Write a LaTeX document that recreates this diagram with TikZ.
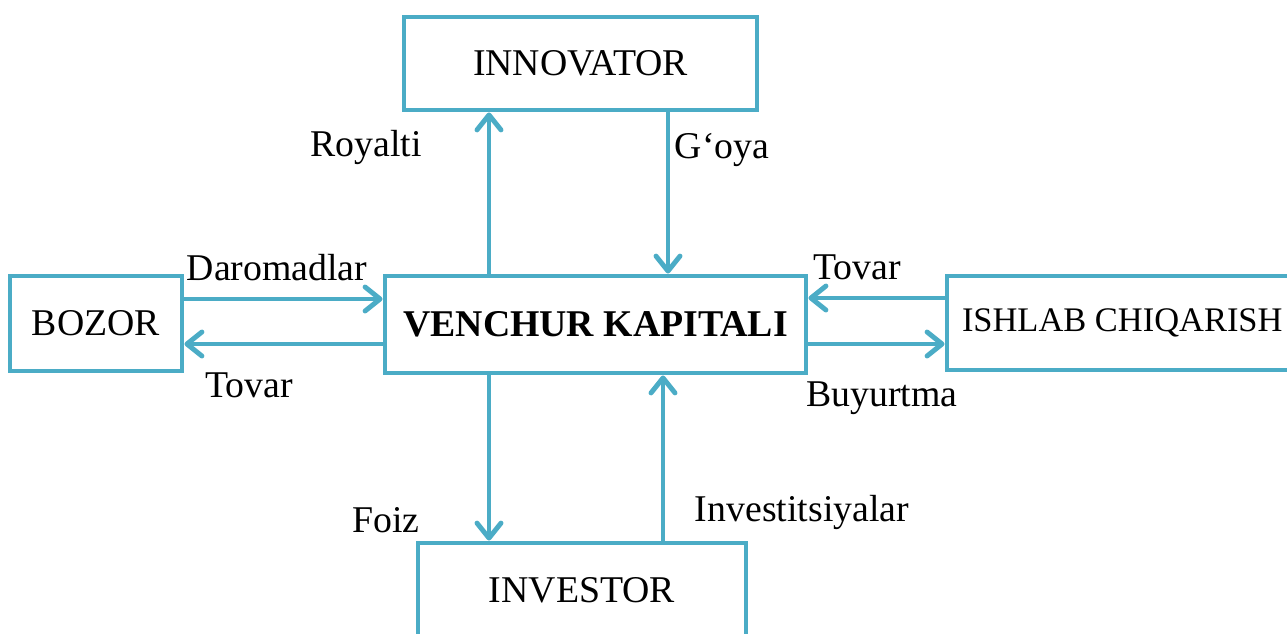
\documentclass[tikz,border=0pt]{standalone}
\usepackage{fontspec}
\setmainfont{Liberation Serif}
\usepackage{tikz}
\usetikzlibrary{positioning,calc,arrows.meta}
\definecolor{aqua}{HTML}{4BACC6}

\begin{document}
\begin{tikzpicture}[font=\fontsize{21.5}{25}\selectfont]
        \tikzstyle{box}=[draw=aqua, line width=2.8pt, inner sep=0pt, fill=white]
        \tikzstyle{arr}=[draw=aqua, line width=2.8pt, -{Straight Barb[length=3mm,width=4.8mm,round]}]

        \clip (0,0) rectangle (25.74,-12.66);

        \node[box, minimum width=7.06cm, minimum height=1.86cm] (innov) at (11.61,-1.27) {INNOVATOR};
        \node[box, minimum width=8.42cm, minimum height=1.94cm] (venchur) at (11.91,-6.49) {\textbf{VENCHUR KAPITALI}};
        \node[box, minimum width=3.44cm, minimum height=1.9cm] (bozor) at (1.92,-6.47) {BOZOR};
        \node[box, minimum height=1.88cm, inner xsep=0.3cm, font=\fontsize{19.6}{24}\selectfont] (ishlab) at (22.64,-6.46) {\makebox[6.8cm][l]{ISHLAB CHIQARISH}};
        \node[box, minimum width=6.56cm, minimum height=1.9cm] (invest) at (11.64,-11.81) {INVESTOR};

        \draw[arr] (venchur.north -| 9.78,0) -- (innov.south -| 9.78,0);
        \draw[arr] (innov.south -| 13.36,0) -- (venchur.north -| 13.36,0);
        \draw[arr] (bozor.east |- 0,-5.98) -- (venchur.west |- 0,-5.98);
        \draw[arr] (venchur.west |- 0,-6.88) -- (bozor.east |- 0,-6.88);
        \draw[arr] (ishlab.west |- 0,-5.96) -- (venchur.east |- 0,-5.96);
        \draw[arr] (venchur.east |- 0,-6.88) -- (ishlab.west |- 0,-6.88);
        \draw[arr] (venchur.south -| 9.78,0) -- (invest.north -| 9.78,0);
        \draw[arr] (invest.north -| 13.26,0) -- (venchur.south -| 13.26,0);

        \node (royalti) at (7.32,-2.94) {Royalti};
        \node (goya) at (14.44,-3.0) {G‘oya};
        \node (daromad) at (5.54,-5.36) {Daromadlar};
        \node (tovarl) at (4.98,-7.7) {Tovar};
        \node (tovarr) at (17.14,-5.34) {Tovar};
        \node (buyurt) at (17.64,-7.96) {Buyurtma};
        \node (foiz) at (7.72,-10.4) {Foiz};
        \node (investl) at (16.04,-10.24) {Investitsiyalar};
    \end{tikzpicture}
\end{document}
